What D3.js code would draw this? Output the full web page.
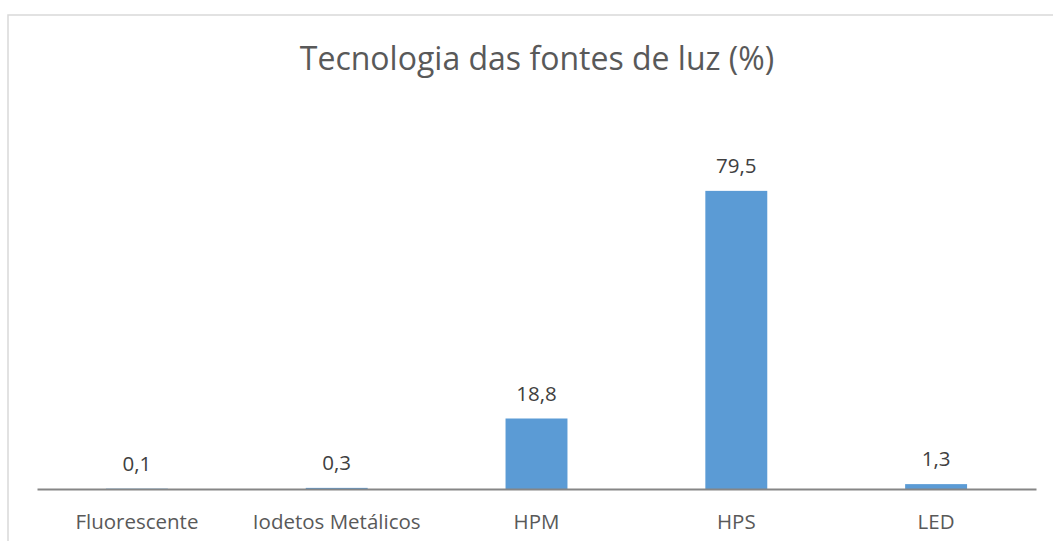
<!DOCTYPE html>
<html>
<head>
<meta charset="utf-8">
<script src="https://cdn.jsdelivr.net/npm/d3@7"></script>
<style>
	body { margin: 0; background: #fff; }
	svg text { font-family: "Open Sans", sans-serif; }
</style>
</head>
<body>
<div id="js_chart"></div>
<script>
	'use strict';
	const categories = ['Fluorescente', 'Iodetos Metálicos', 'HPM', 'HPS', 'LED'];
	const values = [0.1, 0.3, 18.8, 79.5, 1.3];
	const valueLabels = ['0,1', '0,3', '18,8', '79,5', '1,3'];
	const chartTitle = 'Tecnologia das fontes de luz (%)';

	const width = 1053;
	const height = 541;
	const plot = { left: 37, right: 1036, bottom: 489, top: 189 };
	const barColor = 'rgb(91,155,213)';

	let svg = d3.select('#js_chart').append('svg')
		.attr('width', width)
		.attr('height', height);

	// chart frame
	svg.append('rect')
		.attr('x', 8)
		.attr('y', 15)
		.attr('width', width)
		.attr('height', height)
		.style('fill', 'none')
		.style('stroke', '#d9d9d9')
		.style('stroke-width', 1.5);

	svg.append('text')
		.attr('x', 537)
		.attr('y', 70)
		.attr('text-anchor', 'middle')
		.style('font-size', '32px')
		.style('fill', '#595959')
		.text(chartTitle);

	let xScale = d3.scaleBand()
		.domain(categories)
		.range([plot.left, plot.right])
		.paddingInner(0.69)
		.paddingOuter(0.345);

	let yScale = d3.scaleLinear()
		.domain([0, 80])
		.range([plot.bottom, plot.top]);

	// bars
	svg.selectAll('.bar')
		.data(values)
		.enter().append('rect')
		.classed('bar', true)
		.attr('x', function (d, i) { return xScale(categories[i]); })
		.attr('y', function (d) { return yScale(d); })
		.attr('width', xScale.bandwidth())
		.attr('height', function (d) { return yScale(0) - yScale(d); })
		.style('fill', barColor);

	// value labels
	svg.selectAll('.valueLabel')
		.data(values)
		.enter().append('text')
		.classed('valueLabel', true)
		.attr('x', function (d, i) { return xScale(categories[i]) + xScale.bandwidth() / 2; })
		.attr('y', function (d) { return yScale(d) - 18; })
		.attr('text-anchor', 'middle')
		.style('font-size', '20.5px')
		.style('fill', '#404040')
		.text(function (d, i) { return valueLabels[i]; });

	// x axis
	let xAxis = d3.axisBottom(xScale).tickSize(0).tickPadding(40);
	let axisG = svg.append('g')
		.attr('transform', 'translate(0,' + plot.bottom + ')')
		.call(xAxis);
	axisG.select('.domain')
		.style('stroke', '#868686')
		.style('stroke-width', 2);
	axisG.selectAll('.tick text')
		.attr('dy', 0)
		.style('font-size', '20.5px')
		.style('font-family', '"Open Sans", sans-serif')
		.style('fill', '#595959');
</script>
</body>
</html>
